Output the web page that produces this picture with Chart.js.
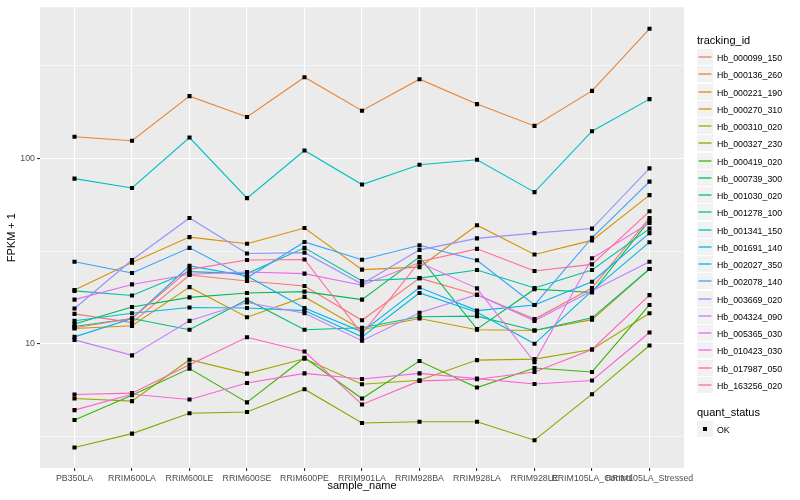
<!DOCTYPE html>
<html><head><meta charset="utf-8">
<script src="https://cdn.jsdelivr.net/npm/chart.js@4.4.1/dist/chart.umd.min.js"></script>
<style>
html,body{margin:0;padding:0;background:#fff;}
#wrap{position:relative;width:800px;height:500px;font-family:"Liberation Sans",Arial,sans-serif;overflow:hidden;}
#c{position:absolute;left:0;top:0;width:800px;height:500px;}
.lt{position:absolute;left:697px;font-size:11px;line-height:13px;color:#000;white-space:nowrap;}
.key{position:absolute;left:697px;width:16px;height:16px;}
.tx{position:absolute;left:717px;font-size:8.8px;line-height:10px;color:#000;white-space:nowrap;}
</style></head><body>
<div id="wrap"><canvas id="c" width="800" height="500"></canvas><div id="legend"></div></div>
<script>
const categories = ["PB350LA","RRIM600LA","RRIM600LE","RRIM600SE","RRIM600PE","RRIM901LA","RRIM928BA","RRIM928LA","RRIM928LE","RRIM105LA_Control","RRIM105LA_Stressed"];
const trackingIds = ["Hb_000099_150","Hb_000136_260","Hb_000221_190","Hb_000270_310","Hb_000310_020","Hb_000327_230","Hb_000419_020","Hb_000739_300","Hb_001030_020","Hb_001278_100","Hb_001341_150","Hb_001691_140","Hb_002027_350","Hb_002078_140","Hb_003669_020","Hb_004324_090","Hb_005365_030","Hb_010423_030","Hb_017987_050","Hb_163256_020"];
const seriesColors = ["#F8766D","#EA8331","#D89000","#C09B00","#A3A500","#7CAE00","#39B600","#00BB4E","#00BF7D","#00C1A3","#00BFC4","#00BAE0","#00B0F6","#35A2FF","#9590FF","#C77CFF","#E76BF3","#FA62DB","#FF62BC","#FF6C91"];

const hb_000099_150 = [14.5,13.0,23.5,21.8,20.5,13.4,22.6,18.4,13.6,20.0,47.7];
const hb_000136_260 = [130.6,124.3,216.4,167,273.5,180.5,267,196,149.5,231,499];
const hb_000221_190 = [19.5,27.4,37.6,34.6,42.1,25.1,25.9,43.6,30.3,36.1,63.3];
const hb_000270_310 = [12.1,12.5,20.2,13.9,17.9,11.9,13.7,11.9,11.8,13.5,25.3];
const hb_000310_020 = [5.07,4.91,8.21,6.91,8.31,6.05,6.36,8.17,8.27,9.32,14.6];
const hb_000327_230 = [2.76,3.28,4.22,4.29,5.69,3.74,3.80,3.80,3.02,5.35,9.79];
const hb_000419_020 = [3.88,5.28,7.35,4.83,8.41,5.07,8.07,5.81,7.40,7.05,16.2];
const hb_000739_300 = [12.8,15.8,17.8,18.8,19.1,17.3,29.4,12.0,19.7,18.9,46.3];
const hb_001030_020 = [12.4,13.7,11.9,17.3,11.9,12.2,14.0,14.1,11.8,13.8,25.3];
const hb_001278_100 = [19.3,18.2,24.5,23.9,32.9,21.8,22.6,25.0,20.0,25.0,41.8];
const hb_001341_150 = [77.7,69.2,129.4,61,110.2,72.2,92.4,98.3,65.7,140,208.5];
const hb_001691_140 = [13.3,14.6,15.7,15.6,15.1,10.9,18.8,14.8,10.0,19.3,35.3];
const hb_002027_350 = [10.9,13.7,26.3,23.2,15.6,11.6,20.1,15.1,16.2,21.6,39.5];
const hb_002078_140 = [27.7,24.1,32.9,22.7,35.4,28.4,34.0,28.2,16.2,37.3,74.9];
const hb_003669_020 = [15.5,28.3,47.7,30.7,31.0,21.0,32.1,37.0,39.5,41.8,88.3];
const hb_004324_090 = [10.5,8.66,13.3,16.7,14.6,10.4,14.7,18.4,13.3,19.3,27.7];
const hb_005365_030 = [17.3,20.9,23.7,24.4,23.9,20.7,27.4,19.9,7.97,28.9,44.8];
const hb_010423_030 = [4.39,5.35,5.01,6.15,6.93,6.46,6.93,6.49,6.07,6.34,11.5];
const hb_017987_050 = [5.33,5.42,7.72,10.85,9.09,4.71,6.31,6.44,7.05,9.32,18.3];
const hb_163256_020 = [12.2,13.7,25.2,28.3,28.5,11.3,27.7,32.5,24.7,26.8,51.8];

const seriesValues = [hb_000099_150,hb_000136_260,hb_000221_190,hb_000270_310,hb_000310_020,hb_000327_230,hb_000419_020,hb_000739_300,hb_001030_020,hb_001278_100,hb_001341_150,hb_001691_140,hb_002027_350,hb_002078_140,hb_003669_020,hb_004324_090,hb_005365_030,hb_010423_030,hb_017987_050,hb_163256_020];

const yMajorTicks = [10,100];
const yTickLabels = ["10","100"];
const yMinorTicks = [3.1623,31.623,316.23];
const quantStatus = ["OK"];

const FONT = '"Liberation Sans", Arial, sans-serif';

const datasets = seriesValues.map((vals,k)=>({
  label: trackingIds[k],
  data: vals.map((v,i)=>({x:i,y:v})),
  borderColor: seriesColors[k],
  backgroundColor: seriesColors[k],
  borderWidth: 1.1,
  pointRadius: 0,
  tension: 0,
  fill: false,
  order: seriesValues.length - k
}));
const allPoints = [];
seriesValues.forEach(vals=>vals.forEach((v,i)=>allPoints.push({x:i,y:v})));
datasets.push({
  label: quantStatus[0],
  data: allPoints,
  showLine: false,
  pointStyle: 'rect',
  pointRadius: 2.9,
  pointBackgroundColor: '#000',
  pointBorderWidth: 0,
  borderWidth: 0,
  order: -1
});

const panelBg = {
  id: 'panelBg',
  beforeDraw(chart){
    const {ctx, chartArea:a} = chart;
    ctx.save();
    ctx.fillStyle = '#EBEBEB';
    ctx.fillRect(a.left, a.top, a.right-a.left, a.bottom-a.top);
    ctx.restore();
  }
};

new Chart(document.getElementById('c'), {
  type: 'line',
  data: { datasets },
  plugins: [panelBg],
  options: {
    responsive: false,
    animation: false,
    events: [],
    layout: { padding: { left: 0, right: 116, top: 5, bottom: 0 } },
    plugins: { legend: { display: false }, tooltip: { enabled: false } },
    scales: {
      x: {
        type: 'linear', min: -0.6, max: 10.6,
        afterBuildTicks: s => { s.ticks = categories.map((_,i)=>({value:i})); },
        afterFit: s => { s.height = 32; },
        ticks: { autoSkip:false, maxRotation:0, minRotation:0, padding:2, color:'#4D4D4D',
                 font:{size:8.8, family:FONT}, callback: v => categories[v] },
        grid: { color:'#FFFFFF', lineWidth:1.1, tickLength:3, tickColor:'#333333', drawTicks:true },
        border: { display:false },
        title: { display:true, text:'sample_name', color:'#000', font:{size:11, family:FONT, lineHeight:1.2}, padding:{top:7,bottom:7} }
      },
      y: {
        type: 'logarithmic', min: 2.14, max: 652,
        afterBuildTicks: s => { s.ticks = yMinorTicks.concat(yMajorTicks).sort((a,b)=>a-b).map(v=>({value:v})); },
        afterFit: s => { s.width = 40; },
        ticks: { padding:2, color:'#4D4D4D', font:{size:8.8, family:FONT},
                 callback: v => { const i = yMajorTicks.indexOf(v); return i>=0 ? yTickLabels[i] : ''; } },
        grid: { color:'#FFFFFF', tickLength:3,
                lineWidth: c => yMajorTicks.includes(c.tick.value) ? 1.1 : 0.55,
                tickColor: c => yMajorTicks.includes(c.tick.value) ? '#333333' : 'rgba(0,0,0,0)' },
        border: { display:false },
        title: { display:true, text:'FPKM + 1', color:'#000', font:{size:11, family:FONT, lineHeight:1.2}, padding:{top:5.4,bottom:5.4} }
      }
    }
  }
});

// legend
const lg = document.getElementById('legend');
let html = '<div class="lt" style="top:34px">tracking_id</div>';
trackingIds.forEach((id,i)=>{
  const top = Math.round(49 + i*17.25);
  html += `<svg class="key" style="top:${top}px" width="16" height="16" viewBox="0 0 16 16"><rect x="0" y="0" width="16" height="16" fill="#F2F2F2"/><line x1="1.5" y1="8" x2="14.5" y2="8" stroke="${seriesColors[i]}" stroke-width="1.3"/></svg>`;
  html += `<div class="tx" style="top:${top+3.5}px">${id}</div>`;
});
html += '<div class="lt" style="top:406px">quant_status</div>';
html += `<svg class="key" style="top:421px" width="16" height="16" viewBox="0 0 16 16"><rect x="0" y="0" width="16" height="16" fill="#F2F2F2"/><rect x="6" y="6" width="4" height="4" fill="#000"/></svg>`;
html += `<div class="tx" style="top:424.5px">${quantStatus[0]}</div>`;
lg.innerHTML = html;
</script>
</body></html>
